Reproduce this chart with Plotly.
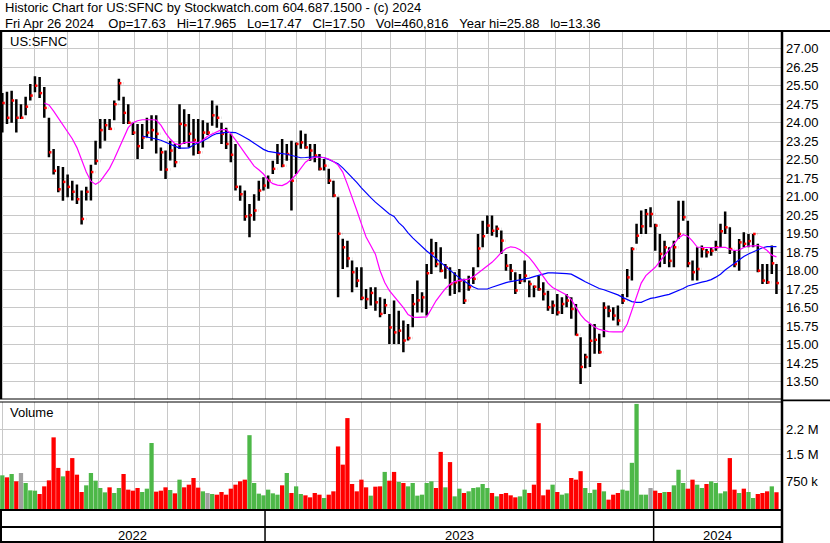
import numpy as np
import pandas as pd
import plotly.graph_objects as go

# ---------------- data ----------------
START_DATE = "2022-04-26"
END_DATE = "2024-04-26"
HOLIDAYS = ["2022-05-30", "2022-06-20", "2022-07-04", "2022-09-05", "2022-11-24",
            "2022-12-26", "2023-01-02", "2023-01-16", "2023-02-20", "2023-04-07",
            "2023-05-29", "2023-06-19", "2023-07-04", "2023-09-04", "2023-11-23",
            "2023-12-25", "2024-01-01", "2024-01-15", "2024-02-19", "2024-03-29"]
DAYS_PER_BAR = 3

HIGH = [25.0, 25.2, 25.25, 25.3, 24.95, 24.75, 25.05, 25.57, 25.88, 25.85,
        25.45, 24.2, 22.93, 22.25, 22.2, 21.9, 21.65, 21.5, 21.25, 21.4,
        22.3, 23.27, 24.15, 24.15, 24.15, 24.9, 25.78, 25.05, 24.75, 24.0,
        23.95, 23.95, 24.2, 24.3, 24.3, 23.0, 22.87, 23.27, 23.14, 24.75,
        24.55, 24.35, 24.15, 24.15, 24.1, 24.0, 24.9, 24.7, 24.0, 23.8,
        23.55, 23.14, 21.45, 21.25, 20.7, 21.1, 21.65, 21.79, 21.86, 22.46,
        23.14, 23.34, 23.14, 23.27, 23.2, 23.68, 23.55, 23.14, 23.14, 22.73,
        22.53, 22.13, 21.65, 20.98, 19.3, 19.22, 18.41, 18.14, 18.14, 17.26,
        17.33, 17.33, 16.92, 16.86, 16.25, 16.79, 16.38, 15.98, 15.84, 17.06,
        17.6, 17.13, 18.27, 19.3, 19.16, 18.95, 18.27, 18.14, 17.94, 18.07,
        17.67, 17.8, 18.14, 19.49, 20.03, 20.24, 20.24, 19.83, 19.63, 18.68,
        18.27, 17.94, 17.87, 18.41, 17.6, 17.4, 17.8, 17.53, 17.19, 16.79,
        17.06, 16.92, 17.06, 16.92, 16.65, 15.3, 14.63, 15.85, 15.84, 15.44,
        16.72, 16.59, 16.52, 16.59, 17.06, 18.07, 18.95, 19.9, 20.44, 20.5,
        20.57, 19.9, 19.49, 19.22, 18.95, 19.22, 20.84, 20.84, 20.03, 18.41,
        18.95, 19.02, 18.88, 18.95, 19.22, 19.9, 20.4, 19.76, 18.81, 19.29,
        19.56, 19.49, 19.49, 19.09, 18.27, 18.27, 19.02, 18.27]

LOW = [23.7, 23.6, 23.95, 24.0, 23.6, 24.15, 24.3, 24.9, 25.23, 25.0,
       24.2, 22.6, 21.9, 21.18, 20.84, 20.98, 20.85, 20.7, 19.87, 20.85,
       20.85, 22.3, 22.95, 23.27, 23.7, 24.1, 24.9, 23.95, 23.95, 23.5,
       22.53, 22.93, 23.4, 23.27, 22.75, 22.05, 21.72, 22.47, 22.19, 22.93,
       23.14, 23.0, 22.67, 22.73, 23.0, 23.5, 23.88, 23.8, 23.14, 22.93,
       22.4, 21.25, 20.84, 20.03, 19.36, 20.03, 20.84, 21.25, 21.32, 21.92,
       22.33, 22.19, 22.46, 20.44, 21.92, 22.94, 22.94, 22.46, 22.4, 22.06,
       22.06, 21.52, 20.98, 16.92, 18.07, 18.14, 17.13, 17.33, 16.8, 16.45,
       16.59, 16.38, 16.11, 16.25, 15.03, 15.03, 15.03, 14.7, 15.17, 15.71,
       16.31, 16.31, 16.18, 17.87, 18.14, 17.94, 17.67, 16.99, 17.06, 17.13,
       16.65, 17.19, 17.46, 18.14, 18.95, 19.49, 19.42, 19.36, 18.68, 18.0,
       17.6, 17.06, 17.46, 17.53, 16.92, 16.92, 17.19, 16.79, 16.38, 16.25,
       16.18, 16.25, 16.52, 16.05, 15.37, 13.41, 14.05, 14.1, 14.63, 14.63,
       15.3, 16.11, 15.98, 15.78, 16.65, 16.92, 17.6, 19.09, 19.49, 19.49,
       19.76, 18.81, 18.14, 18.27, 18.14, 18.14, 19.29, 20.03, 18.14, 17.6,
       17.6, 18.54, 18.54, 18.61, 18.81, 18.95, 19.49, 18.68, 18.14, 18.0,
       18.95, 18.95, 18.95, 17.94, 17.46, 17.46, 17.87, 17.06]

CLOSE = [24.4, 24.8, 24.2, 24.9, 24.2, 24.2, 24.65, 25.1, 25.5, 25.2,
         24.6, 22.8, 22.05, 21.3, 21.6, 21.4, 21.2, 20.9, 20.1, 21.2,
         22.0, 22.45, 23.7, 23.9, 23.75, 24.75, 25.6, 24.4, 24.0, 23.6,
         23.05, 23.4, 23.6, 23.7, 23.55, 22.8, 22.1, 22.87, 22.4, 23.95,
         23.9, 23.55, 23.3, 22.8, 23.6, 23.6, 24.3, 24.2, 23.55, 23.14,
         22.7, 21.4, 21.1, 20.2, 20.25, 20.44, 21.25, 21.45, 21.65, 22.13,
         22.73, 22.26, 22.73, 21.65, 23.14, 23.2, 23.0, 22.87, 22.67, 22.13,
         22.26, 21.65, 21.05, 19.5, 18.95, 18.5, 17.94, 17.6, 16.9, 16.85,
         17.1, 16.72, 16.25, 16.6, 15.7, 15.5, 15.57, 15.17, 15.27, 16.65,
         16.8, 16.92, 17.9, 18.7, 18.27, 18.0, 18.14, 17.46, 17.53, 17.6,
         16.79, 17.33, 17.67, 18.9, 19.4, 19.83, 19.62, 19.7, 19.22, 18.2,
         18.0, 17.2, 17.6, 17.8, 17.46, 17.35, 17.25, 17.06, 16.52, 16.59,
         16.31, 16.65, 16.79, 16.45, 15.4, 14.1, 14.5, 15.16, 15.2, 14.7,
         16.5, 16.38, 16.18, 15.98, 16.79, 17.73, 18.88, 19.42, 19.8, 20.3,
         20.3, 19.83, 18.68, 18.95, 18.4, 18.95, 19.49, 20.17, 18.3, 17.94,
         18.07, 18.88, 18.75, 18.81, 18.95, 19.6, 19.76, 18.88, 18.27, 19.15,
         19.09, 19.2, 19.49, 18.0, 17.6, 17.53, 18.3, 17.5]

VOLUME_K = [900, 926, 871, 963, 761, 990, 715, 513, 504, 412,
            623, 788, 1970, 1130, 898, 1050, 1400, 944, 468, 651,
            990, 779, 578, 458, 596, 440, 578, 963, 532, 504,
            578, 468, 559, 1815, 477, 504, 596, 523, 431, 807,
            596, 669, 853, 587, 486, 440, 412, 394, 468, 394,
            559, 669, 761, 807, 2030, 715, 422, 376, 532, 431,
            394, 651, 990, 440, 623, 412, 376, 321, 440, 394,
            302, 394, 486, 1720, 1220, 2500, 688, 486, 807, 596,
            367, 614, 623, 1020, 779, 1020, 743, 715, 623, 715,
            367, 394, 715, 761, 578, 1570, 596, 1290, 348, 559,
            440, 486, 578, 596, 688, 578, 440, 348, 412, 440,
            376, 321, 348, 532, 440, 669, 2360, 376, 532, 669,
            468, 394, 431, 853, 807, 1040, 578, 440, 532, 715,
            486, 257, 394, 440, 532, 504, 1270, 2890, 394, 394,
            578, 504, 440, 468, 468, 651, 1080, 715, 559, 807,
            669, 578, 688, 761, 715, 431, 486, 1400, 532, 440,
            559, 468, 302, 412, 440, 486, 623, 461]

MA_SHORT = [None] * 10 + [
    24.8, 24.72, 24.47, 24.2, 23.91, 23.63, 23.35, 22.99, 22.48, 22.0,
    21.63, 21.5, 21.62, 21.88, 22.15, 22.53, 22.95, 23.42, 23.8, 24.0,
    24.08, 24.12, 24.13, 24.12, 24.11, 23.9, 23.59, 23.34, 23.15, 23.1,
    23.19, 23.21, 23.21, 23.19, 23.3, 23.45, 23.55, 23.64, 23.72, 23.72,
    23.55, 23.3, 23.05, 22.77, 22.5, 22.24, 22.09, 21.92, 21.67, 21.53,
    21.47, 21.45, 21.54, 21.7, 21.9, 22.15, 22.4, 22.53, 22.6, 22.6,
    22.59, 22.53, 22.43, 22.28, 22.0, 21.5, 21.0, 20.45, 19.9, 19.37,
    19.02, 18.67, 18.0, 17.52, 17.19, 16.95, 16.75, 16.5, 16.22, 16.12,
    16.11, 16.11, 16.13, 16.45, 16.78, 17.03, 17.27, 17.45, 17.56, 17.61,
    17.63, 17.66, 17.76, 17.9, 18.04, 18.18, 18.34, 18.53, 18.74, 18.9,
    18.97, 18.94, 18.85, 18.7, 18.53, 18.3, 18.02, 17.73, 17.5, 17.32,
    17.22, 17.15, 17.02, 16.83, 16.53, 16.22, 16.0, 15.86, 15.72, 15.62,
    15.57, 15.53, 15.52, 15.51, 15.52, 15.84, 16.42, 16.97, 17.5, 17.8,
    17.97, 18.14, 18.38, 18.61, 18.85, 19.09, 19.32, 19.46, 19.4, 19.2,
    18.96, 18.95, 18.94, 18.92, 18.94, 18.95, 18.95, 18.87, 18.82, 18.84,
    18.94, 19.0, 19.02, 19.02, 18.95, 18.82, 18.63, 18.56]

MA_LONG = [None] * 31 + [
    23.46, 23.43, 23.39, 23.34, 23.29, 23.21, 23.14, 23.05, 22.97,
    22.97, 22.98, 23.1, 23.17, 23.26, 23.36, 23.48, 23.56, 23.59, 23.61,
    23.61, 23.6, 23.51, 23.42, 23.3, 23.17, 23.04, 22.92, 22.84, 22.8,
    22.77, 22.75, 22.72, 22.67, 22.62, 22.58, 22.59, 22.62, 22.62, 22.61,
    22.58, 22.51, 22.43, 22.34, 22.17, 21.98, 21.78, 21.58, 21.36, 21.15,
    20.96, 20.78, 20.63, 20.48, 20.3, 20.2, 19.95, 19.78, 19.53, 19.33,
    19.14, 18.96, 18.8, 18.65, 18.49, 18.33, 18.17, 18.02, 17.87, 17.71,
    17.58, 17.45, 17.34, 17.26, 17.26, 17.26, 17.33, 17.4, 17.46, 17.52,
    17.56, 17.59, 17.62, 17.65, 17.7, 17.76, 17.82, 17.88, 17.91, 17.91,
    17.91, 17.9, 17.88, 17.86, 17.77, 17.66, 17.55, 17.45, 17.35, 17.28,
    17.23, 17.17, 17.09, 17.02, 16.92, 16.83, 16.75, 16.72, 16.72, 16.8,
    16.88, 16.91, 16.97, 17.0, 17.04, 17.11, 17.19, 17.28, 17.38, 17.44,
    17.5, 17.54, 17.58, 17.64, 17.74, 17.86, 18.03, 18.17, 18.31, 18.45,
    18.58, 18.68, 18.77, 18.86, 18.93, 18.98, 18.98, 18.98]

PRICE_TICKS = [13.50, 14.25, 15.00, 15.75, 16.50, 17.25, 18.00, 18.75, 19.50, 20.25,
               21.00, 21.75, 22.50, 23.25, 24.00, 24.75, 25.50, 26.25, 27.00]
VOL_TICKS = [750000, 1500000, 2200000]
VOL_TICK_TEXT = ["750 k", "1.5 M", "2.2 M"]

TITLE_1 = "Historic Chart for US:SFNC by Stockwatch.com 604.687.1500 - (c) 2024"
TITLE_2_PARTS = ["Fri Apr 26 2024 ", "Op=17.63", "Hi=17.965", "Lo=17.47", "Cl=17.50",
                 "Vol=460,816", "Year hi=25.88", "lo=13.36"]
SYMBOL_LABEL = "US:SFNC"
VOLUME_LABEL = "Volume"

# ---------------- derived values ----------------
cbd = pd.offsets.CustomBusinessDay(holidays=HOLIDAYS)
dates = pd.date_range(START_DATE, END_DATE, freq=cbd)
day_idx = np.arange(len(dates))
bar_x = day_idx[DAYS_PER_BAR // 2::DAYS_PER_BAR][:len(CLOSE)]
OPEN = [CLOSE[0]] + CLOSE[:-1]
volume = [v * 1000 for v in VOLUME_K]
vol_colors = ["#4DB848" if c > o else ("#FF0000" if c < o else "#A0A0A0")
              for o, c in zip(OPEN, CLOSE)]

month_start = [int(i) for i in day_idx[1:] if dates[i].month != dates[i - 1].month]
year_start = [int(i) for i in day_idx[1:] if dates[i].year != dates[i - 1].year]
years = sorted(set(d.year for d in dates))

# ---------------- geometry ----------------
W, H = 830, 543
PLOT_RIGHT = 781
X_RANGE = [2.51, 504.92]


def px(x):
    return x / W


def py(y):
    return 1 - y / H


FONT = "Liberation Sans, Arial, sans-serif"
GRID = "#C8C8C8"

fig = go.Figure()

fig.add_trace(go.Ohlc(
    x=bar_x, open=OPEN, high=HIGH, low=LOW, close=CLOSE,
    increasing=dict(line=dict(color="black", width=2.5)),
    decreasing=dict(line=dict(color="black", width=2.5)),
    tickwidth=0.02, hoverinfo="skip", xaxis="x", yaxis="y"))

fig.add_trace(go.Scatter(
    x=bar_x + 0.8, y=CLOSE, mode="markers",
    marker=dict(symbol="square", size=2.5, color="#FF0000", line=dict(width=0)),
    hoverinfo="skip", xaxis="x", yaxis="y"))

fig.add_trace(go.Scatter(
    x=bar_x, y=MA_LONG, mode="lines", line=dict(color="#0000FF", width=1.2),
    hoverinfo="skip", xaxis="x", yaxis="y"))
fig.add_trace(go.Scatter(
    x=bar_x, y=MA_SHORT, mode="lines", line=dict(color="#FF00FF", width=1.2),
    hoverinfo="skip", xaxis="x", yaxis="y"))

fig.add_trace(go.Bar(
    x=bar_x, y=volume, width=DAYS_PER_BAR * 0.92,
    marker=dict(color=vol_colors, line=dict(width=0)),
    hoverinfo="skip", xaxis="x2", yaxis="y2"))

axis_common = dict(showline=False, zeroline=False, ticks="", fixedrange=True)

fig.update_layout(
    width=W, height=H, margin=dict(l=0, r=0, t=0, b=0),
    paper_bgcolor="white", plot_bgcolor="white", showlegend=False,
    font=dict(family=FONT, size=13, color="black"),
    xaxis=dict(domain=[0, px(PLOT_RIGHT)], range=X_RANGE, anchor="y",
               tickvals=month_start, showticklabels=False, showgrid=True,
               gridcolor=GRID, gridwidth=1, rangeslider=dict(visible=False),
               **axis_common),
    yaxis=dict(domain=[py(399), py(32)], range=[12.80, 27.677], anchor="x",
               side="right", tickvals=PRICE_TICKS,
               ticktext=[f"{v:.2f}" for v in PRICE_TICKS],
               showgrid=True, gridcolor=GRID, gridwidth=1,
               tickfont=dict(family=FONT, size=13, color="black"),
               ticklabelstandoff=4, **axis_common),
    xaxis2=dict(domain=[0, px(PLOT_RIGHT)], range=X_RANGE, anchor="y2",
                tickvals=month_start, showticklabels=False, showgrid=True,
                gridcolor=GRID, gridwidth=1, **axis_common),
    yaxis2=dict(domain=[py(509), py(402)], range=[0, 2.9425e6], anchor="x2",
                side="right", tickvals=VOL_TICKS, ticktext=VOL_TICK_TEXT,
                showgrid=True, gridcolor=GRID, gridwidth=1,
                tickfont=dict(family=FONT, size=13, color="black"),
                ticklabelstandoff=4, **axis_common),
)

NB = "\u00a0"
title2 = (NB * 3).join(TITLE_2_PARTS)

ann = [
    dict(text=TITLE_1, x=px(3), y=py(8)),
    dict(text=title2, x=px(3), y=py(23)),
    dict(text=SYMBOL_LABEL, x=px(8), y=py(41)),
    dict(text=VOLUME_LABEL, x=px(8), y=py(413)),
]
for a in ann:
    fig.add_annotation(xref="paper", yref="paper", xanchor="left", yanchor="middle",
                       showarrow=False, font=dict(family=FONT, size=13, color="black"),
                       **a)

# year labels centred in each year span of the bottom strip
bounds = [X_RANGE[0]] + year_start + [X_RANGE[1]]
for yr, a, b in zip(years, bounds[:-1], bounds[1:]):
    fig.add_annotation(xref="x", yref="paper", x=(a + b) / 2, y=py(535),
                       text=str(yr), showarrow=False, xanchor="center", yanchor="middle",
                       font=dict(family=FONT, size=13, color="black"))

shapes = []


def hline(y, x0, x1, w):
    shapes.append(dict(type="line", xref="paper", yref="paper", x0=px(x0), x1=px(x1),
                       y0=py(y), y1=py(y), line=dict(color="black", width=w), layer="above"))


def vline(x, y0, y1, w):
    shapes.append(dict(type="line", xref="paper", yref="paper", x0=px(x), x1=px(x),
                       y0=py(y0), y1=py(y1), line=dict(color="black", width=w), layer="above"))


hline(31, 0, W, 2)
hline(399, 0, PLOT_RIGHT, 1)
hline(402, 0, PLOT_RIGHT, 1)
hline(400.3, PLOT_RIGHT, W, 1.7)
hline(510, 0, PLOT_RIGHT, 2)
hline(527, 0, PLOT_RIGHT, 2)
hline(542, 0, PLOT_RIGHT, 2)
vline(1, 31, 399, 2)
vline(1, 510, 543, 2)
vline(782, 30, 543, 2.5)
for ys in year_start:
    shapes.append(dict(type="line", xref="x", yref="paper", x0=ys, x1=ys,
                       y0=py(511), y1=py(541), line=dict(color="black", width=1.5),
                       layer="above"))
fig.update_layout(shapes=shapes)

fig.write_html("out.html", config={"displayModeBar": False},
               post_script="document.body.style.margin='0';")
